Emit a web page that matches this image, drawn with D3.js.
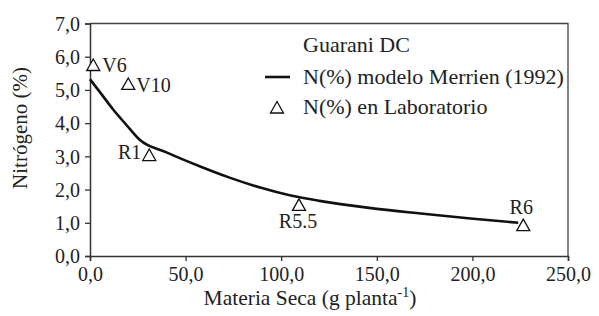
<!DOCTYPE html>
<html>
<head>
<meta charset="utf-8">
<script src="https://cdn.jsdelivr.net/npm/d3@7"></script>
<style>
  body { margin: 0; background: #fff; }
  svg text { font-family: "Liberation Serif", "Times New Roman", Times, "DejaVu Serif", serif !important; fill: #222; }
</style>
</head>
<body>
<svg id="chart" width="599" height="316"></svg>
<script>
// model curve
const curveX = [0, 5, 12, 19, 26, 40, 57, 73, 89, 105, 120, 146, 173, 199, 224];
const curveY = [5.32, 4.95, 4.42, 3.95, 3.5, 3.12, 2.71, 2.36, 2.06, 1.82, 1.66, 1.45, 1.28, 1.13, 1.0];

// lab measurements
const labNames = ["V6", "V10", "R1", "R5.5", "R6"];
const labX = [1.7, 20, 31, 109.3, 226.6];
const labY = [5.75, 5.18, 3.04, 1.54, 0.93];

const xTicks = [0, 50, 100, 150, 200, 250];
const yTicks = [0, 1, 2, 3, 4, 5, 6, 7];

const legendTitle = "Guarani DC";
const legendLabels = ["N(%) modelo Merrien (1992)", "N(%) en Laboratorio"];

const margin = { top: 23.5, right: 31, bottom: 60, left: 90 };
const W = 599, H = 316;

const svg = d3.select("#chart");
const fmt = d => d.toFixed(1).replace(".", ",");

const x = d3.scaleLinear().domain([0, 250]).range([margin.left, W - margin.right]);
const y = d3.scaleLinear().domain([0, 7]).range([H - margin.bottom, margin.top]);

// frame: top and right
svg.append("path")
    .attr("d", `M${x(0)},${y(7)}H${x(250)}V${y(0)}`)
    .attr("fill", "none")
    .attr("stroke", "#444")
    .attr("stroke-width", 1.3);

const xAxis = svg.append("g")
    .attr("transform", `translate(0,${y(0)})`)
    .call(d3.axisBottom(x).tickValues(xTicks).tickFormat(fmt).tickSize(5).tickPadding(6));

const yAxis = svg.append("g")
    .attr("transform", `translate(${x(0)},0)`)
    .call(d3.axisLeft(y).tickValues(yTicks).tickFormat(fmt).tickSize(5).tickPadding(5));

[xAxis, yAxis].forEach(g => {
    g.attr("font-family", null);
    g.select(".domain").attr("stroke", "#333").attr("stroke-width", 1.5);
    g.selectAll(".tick line").attr("stroke", "#333").attr("stroke-width", 1.3);
    g.selectAll(".tick text")
        .style("font-size", "20px")
        .attr("fill", "#222");
});
yAxis.selectAll(".tick text").attr("dy", "0.34em");

// axis titles
const xt = svg.append("text")
    .attr("x", 310)
    .attr("y", 305)
    .attr("text-anchor", "middle")
    .style("font-size", "21.5px");
xt.append("tspan").text("Materia Seca (g planta");
xt.append("tspan").attr("dy", -8).style("font-size", "14px").text("-1");
xt.append("tspan").attr("dy", 8).text(")");

svg.append("text")
    .attr("transform", "translate(27,128) rotate(-90)")
    .attr("text-anchor", "middle")
    .style("font-size", "21px")
    .text("Nitrógeno (%)");

// model line
const pts = curveX.map((d, i) => [d, curveY[i]]);
svg.append("path")
    .datum(pts)
    .attr("fill", "none")
    .attr("stroke", "#111")
    .attr("stroke-width", 2.6)
    .attr("d", d3.line().x(d => x(d[0])).y(d => y(d[1])).curve(d3.curveMonotoneX));

// triangles
const tri = "M0,-6.5L6.5,5L-6.5,5Z";
const lab = labNames.map((n, i) => ({ name: n, x: labX[i], y: labY[i] }));
svg.selectAll(".lab")
    .data(lab).enter()
    .append("path")
    .attr("class", "lab")
    .attr("d", tri)
    .attr("transform", d => `translate(${x(d.x)},${y(d.y) + 0.5})`)
    .attr("fill", "#fff")
    .attr("stroke", "#111")
    .attr("stroke-width", 1.3);

// label placement per point
const labOffset = {
    "V6": [9, 7, "start"],
    "V10": [8, 8, "start"],
    "R1": [-8, 4, "end"],
    "R5.5": [-1, 23, "middle"],
    "R6": [-2, -11, "middle"]
};
svg.selectAll(".labname")
    .data(lab).enter()
    .append("text")
    .attr("x", d => x(d.x) + labOffset[d.name][0])
    .attr("y", d => y(d.y) + labOffset[d.name][1])
    .attr("text-anchor", d => labOffset[d.name][2])
    .style("font-size", "20px")
    .text(d => d.name);

// legend
const lg = svg.append("g");
lg.append("text").attr("x", 303).attr("y", 52).style("font-size", "22px").text(legendTitle);
lg.append("line").attr("x1", 265).attr("x2", 290).attr("y1", 77).attr("y2", 77)
    .attr("stroke", "#111").attr("stroke-width", 2.6);
lg.append("text").attr("x", 303).attr("y", 84).style("font-size", "22px").text(legendLabels[0]);
lg.append("path").attr("d", tri).attr("transform", "translate(277,108)")
    .attr("fill", "#fff").attr("stroke", "#111").attr("stroke-width", 1.3);
lg.append("text").attr("x", 303).attr("y", 114).style("font-size", "22px").text(legendLabels[1]);
</script>
</body>
</html>
